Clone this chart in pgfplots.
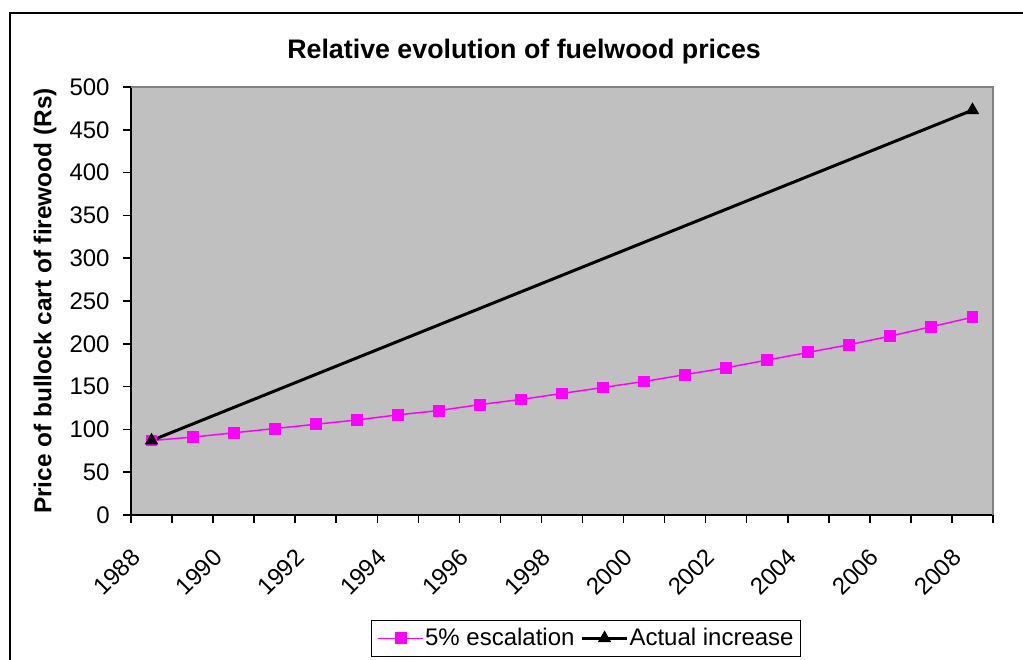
\documentclass[border=0pt]{standalone}
\usepackage{fontspec}
\setmainfont{Liberation Sans}
\usepackage{pgfplots}
\pgfplotsset{compat=1.18}
\definecolor{plotgray}{HTML}{C0C0C0}
\definecolor{bordergray}{HTML}{808080}
\definecolor{escal}{HTML}{FF00FF}

\begin{document}
\begin{tikzpicture}
\useasboundingbox (0,0) rectangle (511.5pt,-329.5pt);
% outer chart frame (cut off at right and bottom)
\draw[line width=1pt] (5pt,-340pt) -- (5pt,-6.5pt) -- (520pt,-6.5pt);
\begin{axis}[
  at={(65.5pt,-257.5pt)}, anchor=south west,
  scale only axis, width=431pt, height=214pt,
  xmin=-0.5, xmax=20.5, ymin=0, ymax=500,
  clip=false,
  axis x line*=bottom, axis y line*=left,
  axis line style={-, black, line width=0.75pt},
  axis background/.style={fill=plotgray},
  tick align=outside, major tick length=4pt,
  tick style={black, line width=0.75pt},
  xtick={-0.5,0.5,...,20.5},
  xticklabels={1988,,1990,,1992,,1994,,1996,,1998,,2000,,2002,,2004,,2006,,2008,},
  ytick={0,50,...,500},
  tick label style={font=\fontsize{12}{14}\selectfont},
  /pgf/number format/assume math mode=true,
  xticklabel style={inner sep=0pt, xshift=2.5pt, yshift=-15pt, rotate=45, anchor=east},
  yticklabel style={inner sep=0pt, xshift=-6.5pt, anchor=east},
  ylabel={Price of bullock cart of firewood (Rs)},
  ylabel style={at={(axis description cs:-0.0998,0.5)}, anchor=center, font=\bfseries\fontsize{12.2}{14}\selectfont},
  legend style={at={(axis description cs:0.528,-0.288)}, anchor=center,
    legend columns=-1, draw=black, line width=0.5pt,
    font=\fontsize{12}{14}\selectfont,
    inner xsep=3pt, inner ysep=2pt,
    nodes={inner xsep=0.5pt},
    /tikz/every even column/.append style={column sep=2.5pt}},
  legend image code/.code={\draw[mark repeat=2, mark phase=2] plot coordinates {(0pt,0pt) (11.25pt,0pt) (22.5pt,0pt)};},
]
\draw[bordergray, line width=1pt] (rel axis cs:0,1) -- (rel axis cs:1,1) -- (rel axis cs:1,0);
\node[font=\bfseries\fontsize{13.4}{15}\selectfont, anchor=center]
  at (axis description cs:0.456,1.082) {Relative evolution of fuelwood prices};

\addplot[escal, line width=0.75pt, mark=square*, mark size=2.6pt, mark options={solid, fill=escal, draw=escal}]
  coordinates {(0,87) (1,91) (2,96) (3,101) (4,106) (5,111) (6,117) (7,122) (8,129) (9,135)
               (10,142) (11,149) (12,156) (13,164) (14,172) (15,181) (16,190) (17,199) (18,209) (19,220) (20,231)};
\addlegendentry{5\% escalation}

\addplot[black, line width=1.5pt, mark=triangle*, mark size=3.4pt, mark options={solid, line width=0.5pt}]
  coordinates {(0,87) (20,473)};
\addlegendentry{Actual increase}
\end{axis}
\end{tikzpicture}
\end{document}
